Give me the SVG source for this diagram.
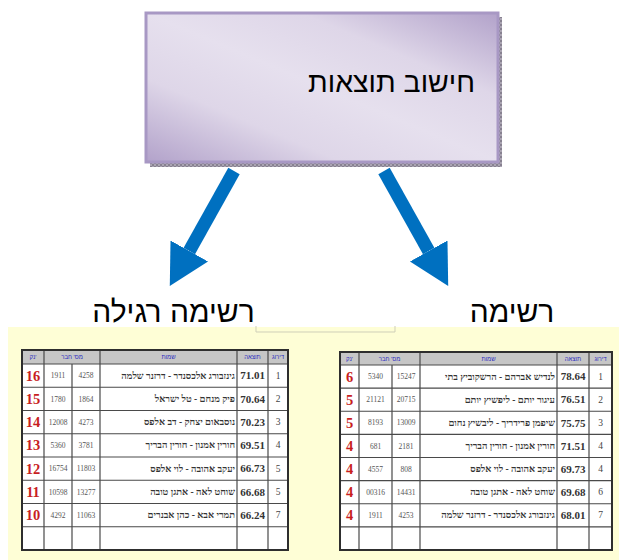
<svg xmlns="http://www.w3.org/2000/svg" width="619" height="560" viewBox="0 0 619 560">
<style>
.heb{font-family:"Liberation Sans","DejaVu Sans",sans-serif;fill:#000}
.big{font-size:30px}
.cell{fill:#fff}
.hdr{fill:#c6c6c6}
.grid{stroke:#4a4a4a;stroke-width:1.2;fill:none}
.frame{stroke:#2e2e2e;stroke-width:2;fill:none}
.ht{font-family:"Liberation Sans","DejaVu Sans",sans-serif;font-size:6px;fill:#2b2bbf;text-anchor:middle}
.rk{font-family:"Liberation Serif","DejaVu Serif",serif;font-size:9.5px;fill:#444;text-anchor:middle}
.res{font-family:"Liberation Serif","DejaVu Serif",serif;font-size:11px;font-weight:bold;fill:#333;text-anchor:middle}
.nm{font-family:"Liberation Serif","DejaVu Sans",serif;font-size:9.5px;font-weight:bold;fill:#333;text-anchor:end}
.mb{font-family:"Liberation Serif","DejaVu Serif",serif;font-size:7.5px;fill:#555;text-anchor:middle}
.pt{font-family:"Liberation Serif","DejaVu Serif",serif;font-size:14.5px;font-weight:bold;fill:#c81e1e;text-anchor:middle}
.arrow{stroke:#0070c0;stroke-width:13;fill:none;marker-end:url(#head)}
</style>
<defs>
<linearGradient id="boxg" x1="0" y1="1" x2="1" y2="0">
<stop offset="0" stop-color="#b2a2ca"/>
<stop offset="0.28" stop-color="#ded6e8"/>
<stop offset="0.5" stop-color="#e6e0ee"/>
<stop offset="0.72" stop-color="#ded6e8"/>
<stop offset="1" stop-color="#b2a2ca"/>
</linearGradient>
<pattern id="shade" width="4" height="4" patternUnits="userSpaceOnUse">
<rect width="4" height="4" fill="#aaa4b2"/>
<rect width="2" height="2" fill="#878190"/>
<rect x="2" y="2" width="2" height="2" fill="#878190"/>
</pattern>
<marker id="head" viewBox="0 0 40 43" refX="0" refY="21.5" markerWidth="40" markerHeight="43" markerUnits="userSpaceOnUse" orient="auto">
<path d="M0,0 L40,21.5 L0,43 Z" fill="#0070c0"/>
</marker>
</defs>
<rect width="619" height="560" fill="#fff"/>

<g id="calc">
<rect x="150" y="17" width="352" height="150" fill="url(#shade)"/>
<rect x="146" y="13" width="352" height="149" fill="url(#boxg)" stroke="#a898c4" stroke-width="3"/>
<text class="heb" font-size="28.5" x="475" y="92" text-anchor="end">חישוב תוצאות</text>
</g>

<g id="connectors">
<line class="arrow" x1="234" y1="171" x2="189.3" y2="251"/>
<line class="arrow" x1="384" y1="171" x2="428.7" y2="251"/>
</g>

<g id="label-left"><text class="heb big" x="173.5" y="322" text-anchor="middle">רשימה רגילה</text></g>
<g id="label-right"><text class="heb big" x="512" y="322" text-anchor="middle">רשימה</text></g>

<g id="panel">
<rect x="8" y="327" width="611" height="233" fill="#fefed6"/>
<path d="M256,326 V332 H395 V326" stroke="#cfcfb8" stroke-width="1" fill="none"/>
</g>

<g id="table-left">
<rect x="22" y="350" width="266" height="14" class="hdr"/>
<rect x="22" y="364" width="266" height="186" class="cell"/>
<g class="grid">
<path d="M22,364H288 M22,387.25H288 M22,410.5H288 M22,433.75H288 M22,457H288 M22,480.25H288 M22,503.5H288 M22,526.75H288"/>
<path d="M44,350V550 M72,364V550 M100,350V550 M237,350V550 M268,350V550"/>
</g>
<rect x="22" y="350" width="266" height="200" class="frame"/>
<text class="ht" x="33" y="359">נק'</text>
<text class="ht" x="72" y="359">מס' חבר</text>
<text class="ht" x="168.5" y="359">שמות</text>
<text class="ht" x="252.5" y="359">תוצאה</text>
<text class="ht" x="278" y="359">דירוג</text>
<g transform="translate(0,375.6)"><text class="rk" x="278" y="3">1</text><text class="res" x="252.5" y="3.7">71.01</text><text class="nm" x="235" y="3">גינזבורג אלכסנדר - דרזנר שלמה</text><text class="mb" x="86" y="2.6">4258</text><text class="mb" x="58" y="2.6">1911</text><text class="pt" x="33" y="5">16</text></g>
<g transform="translate(0,398.9)"><text class="rk" x="278" y="3">2</text><text class="res" x="252.5" y="3.7">70.64</text><text class="nm" x="235" y="3">פיק מנחם - טל ישראל</text><text class="mb" x="86" y="2.6">1864</text><text class="mb" x="58" y="2.6">1780</text><text class="pt" x="33" y="5">15</text></g>
<g transform="translate(0,422.1)"><text class="rk" x="278" y="3">3</text><text class="res" x="252.5" y="3.7">70.23</text><text class="nm" x="235" y="3">נוסבאום יצחק - דב אלפס</text><text class="mb" x="86" y="2.6">4273</text><text class="mb" x="58" y="2.6">12008</text><text class="pt" x="33" y="5">14</text></g>
<g transform="translate(0,445.4)"><text class="rk" x="278" y="3">4</text><text class="res" x="252.5" y="3.7">69.51</text><text class="nm" x="235" y="3">חורין אמנון - חורין הבריך</text><text class="mb" x="86" y="2.6">3781</text><text class="mb" x="58" y="2.6">5360</text><text class="pt" x="33" y="5">13</text></g>
<g transform="translate(0,468.6)"><text class="rk" x="278" y="3">5</text><text class="res" x="252.5" y="3.7">66.73</text><text class="nm" x="235" y="3">יעקב אהובה - לוי אלפס</text><text class="mb" x="86" y="2.6">11803</text><text class="mb" x="58" y="2.6">16754</text><text class="pt" x="33" y="5">12</text></g>
<g transform="translate(0,491.9)"><text class="rk" x="278" y="3">5</text><text class="res" x="252.5" y="3.7">66.68</text><text class="nm" x="235" y="3">שוחט לאה - אתגן טובה</text><text class="mb" x="86" y="2.6">13277</text><text class="mb" x="58" y="2.6">10598</text><text class="pt" x="33" y="5">11</text></g>
<g transform="translate(0,515.1)"><text class="rk" x="278" y="3">7</text><text class="res" x="252.5" y="3.7">66.24</text><text class="nm" x="235" y="3">תמרי אבא - כהן אבנרים</text><text class="mb" x="86" y="2.6">11063</text><text class="mb" x="58" y="2.6">4292</text><text class="pt" x="33" y="5">10</text></g>
</g>

<g id="table-right">
<rect x="340" y="352" width="272" height="13" class="hdr"/>
<rect x="340" y="365" width="272" height="185" class="cell"/>
<g class="grid">
<path d="M340,365H612 M340,388.1H612 M340,411.25H612 M340,434.4H612 M340,457.5H612 M340,480.6H612 M340,503.75H612 M340,526.9H612"/>
<path d="M359,352V550 M392,365V550 M420,352V550 M557,352V550 M589,352V550"/>
</g>
<rect x="340" y="352" width="272" height="198" class="frame"/>
<text class="ht" x="349.5" y="360.5">נק'</text>
<text class="ht" x="389.5" y="360.5">מס' חבר</text>
<text class="ht" x="488.5" y="360.5">שמות</text>
<text class="ht" x="573" y="360.5">תוצאה</text>
<text class="ht" x="600.5" y="360.5">דירוג</text>
<g transform="translate(0,376.6)"><text class="rk" x="600.5" y="3">1</text><text class="res" x="573" y="3.7">78.64</text><text class="nm" x="555" y="3">לנדיש אברהם - הרשקוביץ בתי</text><text class="mb" x="406" y="2.6">15247</text><text class="mb" x="375.5" y="2.6">5340</text><text class="pt" x="349.5" y="5">6</text></g>
<g transform="translate(0,399.7)"><text class="rk" x="600.5" y="3">2</text><text class="res" x="573" y="3.7">76.51</text><text class="nm" x="555" y="3">עיגור יותם - ליפשיץ יותם</text><text class="mb" x="406" y="2.6">20715</text><text class="mb" x="375.5" y="2.6">21121</text><text class="pt" x="349.5" y="5">5</text></g>
<g transform="translate(0,422.8)"><text class="rk" x="600.5" y="3">3</text><text class="res" x="573" y="3.7">75.75</text><text class="nm" x="555" y="3">שיפמן פרידריך - ליבשיץ נחום</text><text class="mb" x="406" y="2.6">13009</text><text class="mb" x="375.5" y="2.6">8193</text><text class="pt" x="349.5" y="5">5</text></g>
<g transform="translate(0,445.9)"><text class="rk" x="600.5" y="3">4</text><text class="res" x="573" y="3.7">71.51</text><text class="nm" x="555" y="3">חורין אמנון - חורין הבריך</text><text class="mb" x="406" y="2.6">2181</text><text class="mb" x="375.5" y="2.6">681</text><text class="pt" x="349.5" y="5">4</text></g>
<g transform="translate(0,469.1)"><text class="rk" x="600.5" y="3">4</text><text class="res" x="573" y="3.7">69.73</text><text class="nm" x="555" y="3">יעקב אהובה - לוי אלפס</text><text class="mb" x="406" y="2.6">808</text><text class="mb" x="375.5" y="2.6">4557</text><text class="pt" x="349.5" y="5">4</text></g>
<g transform="translate(0,492.2)"><text class="rk" x="600.5" y="3">6</text><text class="res" x="573" y="3.7">69.68</text><text class="nm" x="555" y="3">שוחט לאה - אתגן טובה</text><text class="mb" x="406" y="2.6">14431</text><text class="mb" x="375.5" y="2.6">00316</text><text class="pt" x="349.5" y="5">4</text></g>
<g transform="translate(0,515.3)"><text class="rk" x="600.5" y="3">7</text><text class="res" x="573" y="3.7">68.01</text><text class="nm" x="555" y="3">גינזבורג אלכסנדר - דרזנר שלמה</text><text class="mb" x="406" y="2.6">4253</text><text class="mb" x="375.5" y="2.6">1911</text><text class="pt" x="349.5" y="5">4</text></g>
</g>
</svg>
